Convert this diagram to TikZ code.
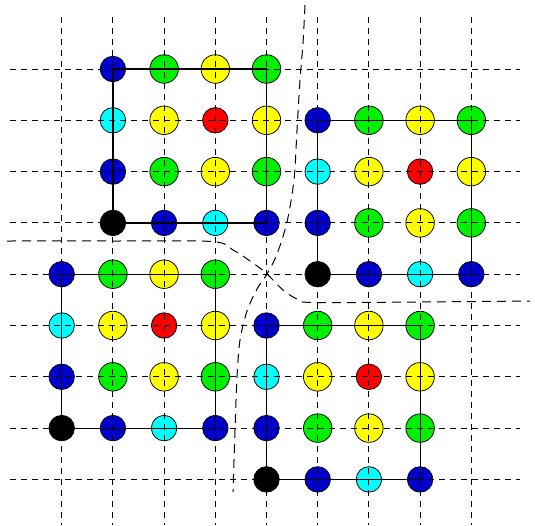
\documentclass[tikz,border=0pt]{standalone}
\definecolor{cb}{RGB}{0,0,205}
\definecolor{cg}{RGB}{0,240,0}
\definecolor{cy}{RGB}{255,255,0}
\definecolor{cc}{RGB}{0,255,255}
\definecolor{cr}{RGB}{255,0,0}
\definecolor{ck}{RGB}{0,0,0}
\begin{document}
\begin{tikzpicture}[x=1pt,y=-1pt,
  dot/.style={circle,draw=black,line width=0.75pt,inner sep=0pt,minimum size=25.5pt},
  bigdot/.style={dot,minimum size=28.5pt},
  gridline/.style={dash pattern=on 6pt off 5pt,line width=0.85pt},
  bound/.style={dash pattern=on 9pt off 6pt,line width=1pt},
  frame/.style={line width=1.2pt}]
\useasboundingbox (0,0) rectangle (535,525);
% circles
\foreach \name/\bi/\bj in {A/1/0,B/5/1,C/0/4,D/4/5}{
  \foreach \c/\r/\col/\sz in {0/0/cb/dot,1/0/cg/bigdot,2/0/cy/bigdot,3/0/cg/bigdot,
                              0/1/cc/dot,1/1/cy/bigdot,2/1/cr/dot,3/1/cy/bigdot,
                              0/2/cb/dot,1/2/cg/bigdot,2/2/cy/bigdot,3/2/cg/bigdot,
                              0/3/ck/dot,1/3/cb/dot,2/3/cc/dot,3/3/cb/dot}{
    \node[\sz,fill=\col] (\name\c\r) at ({61.7+51.2*(\bi+\c)},{69+51.3*(\bj+\r)}) {};
  }
}
% grid
\foreach \i in {0,...,8}{
  \draw[gridline] ({61.7+51.2*\i},17) -- ({61.7+51.2*\i},525);
  \draw[gridline] (10,{69+51.3*\i}) -- (520,{69+51.3*\i});
}
% frames
\foreach \name in {A,B,C,D}{
  \draw[frame] (\name00.center) -- (\name30.center) -- (\name33.center) -- (\name03.center) -- cycle;
}
% boundary curves
\draw[bound] plot[smooth,tension=0.5] coordinates {(305,5) (303,43) (300,80) (297,130) (294,180) (287,222) (277,254) (267,274) (257,289) (247,311) (240,340) (237,377) (235,430) (233,492)};
\draw[bound] plot[smooth,tension=0.5] coordinates {(7,241) (110,241) (212,241.5) (233,250) (253,263) (267,274) (283,290) (297,299) (312,302.5) (420,302) (530,301)};
\end{tikzpicture}
\end{document}
